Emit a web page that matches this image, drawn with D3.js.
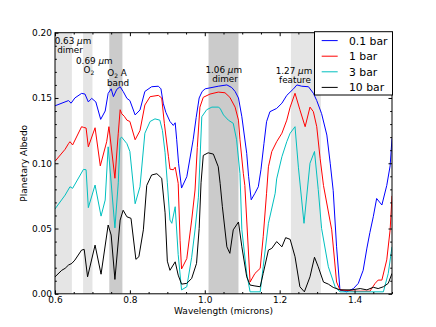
<!DOCTYPE html>
<html><head><meta charset="utf-8">
<script src="https://cdn.jsdelivr.net/npm/d3@7"></script>
<style>body{margin:0;background:#fff}svg{display:block}text{font-family:"DejaVu Sans",sans-serif;fill:#000}</style>
</head><body><svg id="c" width="436" height="327"></svg>
<script>
const seriesNames = ["0.1 bar", "1 bar", "3 bar", "10 bar"];
const seriesColors = ["#0000ff", "#ff0000", "#00bfbf", "#000000"];
const xTicks = [0.6, 0.8, 1.0, 1.2, 1.4];
const yTicks = [0, 0.05, 0.10, 0.15, 0.20];
const lightBands = [[0.60, 0.645], [0.675, 0.70], [1.23, 1.31]];
const darkBands = [[0.745, 0.78], [1.01, 1.09]];

const bar01 = [[0.600,.144],[0.636,.148],[0.643,.146],[0.653,.150],[0.671,.1535],[0.680,.153],[0.689,.147],[0.698,.1497],[0.709,.147],[0.722,.1336],[0.734,.140],[0.742,.1535],[0.750,.157],[0.756,.151],[0.765,.1566],[0.774,.1586],[0.782,.155],[0.792,.1497],[0.800,.148],[0.814,.137],[0.827,.1408],[0.840,.155],[0.858,.1586],[0.876,.159],[0.883,.157],[0.889,.146],[0.896,.139],[0.907,.132],[0.916,.129],[0.921,.131],[0.925,.118],[0.930,.100],[0.938,.081],[0.952,.0897],[0.969,.118],[0.977,.135],[0.985,.150],[0.993,.155],[1.001,.157],[1.036,.159],[1.059,.160],[1.072,.158],[1.081,.155],[1.090,.150],[1.099,.1356],[1.112,.1076],[1.117,.090],[1.124,.072],[1.134,.077],[1.143,.082],[1.150,.095],[1.158,.115],[1.165,.1318],[1.174,.1395],[1.192,.142],[1.206,.146],[1.219,.152],[1.237,.157],[1.246,.160],[1.259,.159],[1.277,.1586],[1.290,.1536],[1.299,.148],[1.312,.138],[1.326,.1216],[1.335,.100],[1.343,.079],[1.352,.036],[1.361,.003],[1.379,.0015],[1.397,.004],[1.410,.008],[1.423,.018],[1.433,.035],[1.441,.047],[1.450,.059],[1.459,.073],[1.473,.068],[1.486,.083],[1.495,.098],[1.500,.119]];

const bar1 = [[0.600,.1015],[0.627,.1107],[0.636,.115],[0.640,.1165],[0.647,.114],[0.671,.128],[0.676,.1275],[0.683,.127],[0.689,.1126],[0.707,.1272],[0.721,.098],[0.738,.1165],[0.744,.128],[0.760,.0885],[0.769,.123],[0.774,.141],[0.778,.138],[0.785,.136],[0.792,.133],[0.800,.132],[0.814,.118],[0.827,.125],[0.840,.1446],[0.854,.151],[0.876,.152],[0.885,.150],[0.892,.1306],[0.903,.105],[0.907,.0955],[0.916,.095],[0.921,.097],[0.929,.0846],[0.934,.041],[0.938,.019],[0.952,.027],[0.965,.0565],[0.974,.0795],[0.980,.112],[0.987,.143],[0.996,.1505],[1.014,.153],[1.036,.1545],[1.054,.154],[1.067,.1505],[1.081,.143],[1.090,.133],[1.094,.118],[1.103,.092],[1.107,.083],[1.121,.009],[1.134,.0156],[1.148,.0195],[1.156,.0437],[1.165,.077],[1.170,.0973],[1.179,.109],[1.192,.1165],[1.206,.123],[1.219,.133],[1.228,.143],[1.241,.1536],[1.254,.141],[1.268,.128],[1.281,.143],[1.290,.1395],[1.299,.128],[1.308,.1038],[1.317,.083],[1.339,.049],[1.352,.009],[1.361,.003],[1.401,.002],[1.441,.002],[1.455,.008],[1.463,.0105],[1.473,.0105],[1.486,.026],[1.495,.049],[1.500,.075]];

const bar3 = [[0.600,.065],[0.627,.0756],[0.640,.082],[0.647,.0808],[0.676,.0953],[0.683,.095],[0.689,.066],[0.707,.0833],[0.723,.0595],[0.734,.0718],[0.742,.1126],[0.760,.0505],[0.769,.085],[0.774,.119],[0.778,.120],[0.792,.115],[0.800,.109],[0.814,.069],[0.827,.082],[0.840,.123],[0.854,.132],[0.867,.134],[0.880,.133],[0.887,.125],[0.894,.108],[0.900,.085],[0.907,.0565],[0.912,.054],[0.921,.0667],[0.929,.030],[0.938,.003],[0.952,.0054],[0.965,.028],[0.974,.049],[0.983,.074],[0.992,.1356],[1.005,.141],[1.019,.143],[1.036,.143],[1.041,.142],[1.050,.137],[1.063,.133],[1.076,.1306],[1.085,.118],[1.094,.092],[1.099,.049],[1.112,.0156],[1.121,.0015],[1.148,.0015],[1.156,.0207],[1.170,.054],[1.188,.077],[1.192,.088],[1.206,.105],[1.219,.1165],[1.228,.123],[1.241,.128],[1.250,.097],[1.265,.054],[1.281,.100],[1.293,.109],[1.303,.080],[1.312,.050],[1.330,.0207],[1.348,.0054],[1.361,.0015],[1.477,.0015],[1.490,.0156],[1.500,.036]];

const bar10 = [[0.600,.013],[0.618,.018],[0.627,.0195],[0.636,.022],[0.645,.0233],[0.653,.0258],[0.671,.0335],[0.678,.034],[0.687,.013],[0.707,.0373],[0.723,.015],[0.742,.0527],[0.750,.045],[0.760,.011],[0.774,.0565],[0.782,.064],[0.792,.059],[0.803,.0578],[0.816,.0264],[0.824,.0284],[0.836,.049],[0.845,.083],[0.858,.091],[0.872,.092],[0.885,.0885],[0.894,.062],[0.900,.025],[0.907,.018],[0.921,.0245],[0.929,.0143],[0.938,.0074],[0.952,.008],[0.965,.0118],[0.978,.0233],[0.985,.050],[0.990,.085],[0.996,.106],[1.009,.108],[1.023,.107],[1.036,.0973],[1.041,.0846],[1.047,.0667],[1.059,.036],[1.067,.031],[1.076,.049],[1.090,.055],[1.099,.036],[1.112,.013],[1.121,.0067],[1.134,.006],[1.148,.0054],[1.156,.0156],[1.170,.0335],[1.179,.0348],[1.192,.040],[1.206,.036],[1.216,.043],[1.228,.0417],[1.241,.0284],[1.254,.0054],[1.266,.0015],[1.281,.013],[1.293,.028],[1.303,.0207],[1.317,.009],[1.330,.0074],[1.343,.0049],[1.361,.003],[1.392,.003],[1.415,.004],[1.433,.003],[1.450,.005],[1.463,.004],[1.477,.0054],[1.490,.008],[1.500,.0156]];

const allSeries = [bar01, bar1, bar3, bar10];

const L = 55, R = 392, T = 32.7, B = 293.8;
const x = d3.scaleLinear().domain([0.6, 1.5]).range([L, R]);
const y = d3.scaleLinear().domain([0, 0.2]).range([B, T]);
const svg = d3.select("#c");

svg.append("defs").append("clipPath").attr("id", "clip")
  .append("rect").attr("x", L).attr("y", T).attr("width", R - L).attr("height", B - T);

const plot = svg.append("g").attr("clip-path", "url(#clip)");
plot.selectAll("rect.lb").data(lightBands).join("rect").attr("class", "lb")
  .attr("x", d => x(d[0])).attr("width", d => x(d[1]) - x(d[0]))
  .attr("y", T).attr("height", B - T).attr("fill", "#e5e5e5");
plot.selectAll("rect.db").data(darkBands).join("rect").attr("class", "db")
  .attr("x", d => x(d[0])).attr("width", d => x(d[1]) - x(d[0]))
  .attr("y", T).attr("height", B - T).attr("fill", "#cbcbcb");

const line = d3.line().x(d => x(d[0])).y(d => y(d[1]));
plot.selectAll("path.s").data(allSeries).join("path").attr("class", "s")
  .attr("d", line).attr("fill", "none")
  .attr("stroke", (d, i) => seriesColors[i]).attr("stroke-width", 1)
  .attr("stroke-linejoin", "round");

// axes
const xMinor = d3.range(0.6, 1.5001, 0.05).filter(v => !xTicks.some(t => Math.abs(t - v) < 1e-6));
const yMinor = d3.range(0, 0.2001, 0.01).filter(v => !yTicks.some(t => Math.abs(t - v) < 1e-6));
function styleAxis(g) {
  g.select(".domain").remove();
  g.selectAll("line").attr("stroke", "#000").attr("stroke-width", 1);
  g.selectAll("text").attr("font-size", 9).attr("font-family", "DejaVu Sans").attr("fill", "#000");
}
svg.append("g").attr("transform", `translate(0,${B})`)
  .call(d3.axisBottom(x).tickValues(xTicks).tickFormat(d3.format(".1f")).tickSizeInner(-3.5).tickSizeOuter(0).tickPadding(3.3))
  .call(styleAxis);
svg.append("g").attr("transform", `translate(0,${B})`)
  .call(d3.axisBottom(x).tickValues(xMinor).tickFormat("").tickSizeInner(-1.8).tickSizeOuter(0)).call(styleAxis);
svg.append("g").attr("transform", `translate(0,${T})`)
  .call(d3.axisTop(x).tickValues(xTicks).tickFormat("").tickSizeInner(-3.5).tickSizeOuter(0)).call(styleAxis);
svg.append("g").attr("transform", `translate(0,${T})`)
  .call(d3.axisTop(x).tickValues(xMinor).tickFormat("").tickSizeInner(-1.8).tickSizeOuter(0)).call(styleAxis);
svg.append("g").attr("transform", `translate(${L},0)`)
  .call(d3.axisLeft(y).tickValues(yTicks).tickFormat(d3.format(".2f")).tickSizeInner(-3.5).tickSizeOuter(0).tickPadding(3))
  .call(styleAxis);
svg.append("g").attr("transform", `translate(${L},0)`)
  .call(d3.axisLeft(y).tickValues(yMinor).tickFormat("").tickSizeInner(-1.8).tickSizeOuter(0)).call(styleAxis);
svg.append("g").attr("transform", `translate(${R},0)`)
  .call(d3.axisRight(y).tickValues(yTicks).tickFormat("").tickSizeInner(-3.5).tickSizeOuter(0)).call(styleAxis);
svg.append("g").attr("transform", `translate(${R},0)`)
  .call(d3.axisRight(y).tickValues(yMinor).tickFormat("").tickSizeInner(-1.8).tickSizeOuter(0)).call(styleAxis);

svg.append("rect").attr("x", L).attr("y", T).attr("width", R - L).attr("height", B - T)
  .attr("fill", "none").attr("stroke", "#000").attr("stroke-width", 1);

// axis labels
svg.append("text").attr("x", (L + R) / 2).attr("y", 314).attr("text-anchor", "middle")
  .attr("font-size", 9).text("Wavelength (microns)");
svg.append("text").attr("transform", `translate(27,${(T + B) / 2}) rotate(-90)`)
  .attr("text-anchor", "middle").attr("font-size", 9).text("Planetary Albedo");

// annotations
const AF = 8.8;
function mu(sel, num) {
  sel.append("tspan").text(num + " ");
  sel.append("tspan").attr("font-style", "italic").text("\u03bc");
  sel.append("tspan").text("m");
}
function ann(xc, yb, builder) {
  const t = svg.append("text").attr("x", xc).attr("y", yb).attr("text-anchor", "middle").attr("font-size", AF);
  builder(t);
  return t;
}
ann(73, 44, t => mu(t, "0.63"));
ann(70, 53.3, t => t.text("dimer"));
ann(94.3, 64, t => mu(t, "0.69"));
ann(89, 73.3, t => { t.append("tspan").text("O"); t.append("tspan").attr("font-size", 6).attr("dy", 1.5).text("2"); });
ann(117, 76, t => { t.append("tspan").text("O"); t.append("tspan").attr("font-size", 6).attr("dy", 1.5).text("2"); t.append("tspan").attr("dy", -1.5).text(" A"); });
ann(118, 85.6, t => t.text("band"));
ann(223.7, 72.7, t => mu(t, "1.06"));
ann(225, 81.7, t => t.text("dimer"));
ann(294, 74, t => mu(t, "1.27"));
ann(295, 82.7, t => t.text("feature"));

// legend
const lg = svg.append("g");
lg.append("rect").attr("x", 314.5).attr("y", 31.7).attr("width", 78).attr("height", 63.3)
  .attr("fill", "#fff").attr("stroke", "#000").attr("stroke-width", 1);
seriesNames.forEach((name, i) => {
  const cy = 40.6 + i * 15.6;
  lg.append("line").attr("x1", 321.7).attr("x2", 337.7).attr("y1", cy).attr("y2", cy)
    .attr("stroke", seriesColors[i]).attr("stroke-width", 1);
  lg.append("text").attr("x", 349).attr("y", cy + 3.9).attr("font-size", 10.8).text(name);
});
</script></body></html>
